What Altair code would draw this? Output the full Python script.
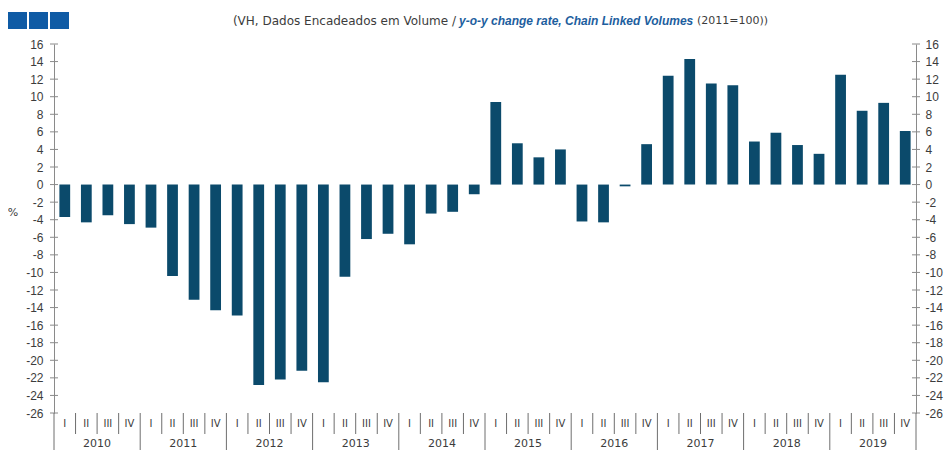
import altair as alt
import pandas as pd

# ---- data ----
years = ["2010", "2011", "2012", "2013", "2014", "2015", "2016", "2017", "2018", "2019"]
quarters = ["I", "II", "III", "IV"]
values = [
    -3.7, -4.3, -3.5, -4.5,      # 2010
    -4.9, -10.4, -13.1, -14.3,   # 2011
    -14.9, -22.8, -22.2, -21.2,  # 2012
    -22.5, -10.5, -6.2, -5.6,    # 2013
    -6.8, -3.3, -3.1, -1.1,      # 2014
    9.4, 4.7, 3.1, 4.0,          # 2015
    -4.2, -4.3, -0.2, 4.6,       # 2016
    12.4, 14.3, 11.5, 11.3,      # 2017
    4.9, 5.9, 4.5, 3.5,          # 2018
    12.5, 8.4, 9.3, 6.1,         # 2019
]
y_ticks = list(range(-26, 17, 2))
title_gray_a = "(VH, Dados Encadeados em Volume / "
title_blue = "y-o-y change rate, Chain Linked Volumes"
title_gray_b = " (2011=100))"

# ---- style ----
W, H = 862, 369
FONT = "DejaVu Sans"
LFONT = "Liberation Sans"
bar_color = "#0b4a6b"
axis_gray = "#8a8a8a"
sep_gray = "#6e6e6e"
text_col = "#3c3c3c"
blue_txt = "#1d5e9e"
sq_color = "#0f5ba5"

df = pd.DataFrame({
    "q": list(range(len(values))),
    "value": values,
    "quarter": quarters * len(years),
})
year_df = pd.DataFrame({"yi": list(range(len(years))), "year": years})
sep_df = pd.DataFrame({"k": list(range(len(values) + 1))})
tick_df = pd.DataFrame({"t": y_ticks})

xscale = alt.Scale(domain=[0, len(values)], nice=False, zero=False)
yscale = alt.Scale(domain=[-26, 16], nice=False, zero=False)
zero_px = H * 16 / 42
lbl_expr = "toString(datum.value)"

bars = alt.Chart(df).transform_calculate(
    x0="datum.q + 0.25", x1="datum.q + 0.75"
).mark_bar(color=bar_color).encode(
    x=alt.X("x0:Q", scale=xscale, axis=alt.Axis(
        values=list(range(len(values) + 1)), labels=False, ticks=True, tickSize=3,
        tickColor=axis_gray, domainColor=axis_gray, grid=False,
        offset=-(H - zero_px), title=None)),
    x2="x1:Q",
    y=alt.Y("value:Q", scale=yscale, axis=alt.Axis(
        orient="left", values=y_ticks, ticks=False, domainColor=axis_gray,
        labelPadding=11, labelFont=LFONT, labelFontSize=12, labelColor=text_col,
        labelExpr=lbl_expr, grid=False, title=None)),
    y2=alt.datum(0),
)

right_ticks = alt.Chart(tick_df).mark_rule(color=axis_gray).encode(
    y=alt.Y("t:Q", scale=yscale, axis=alt.Axis(
        orient="right", values=y_ticks, ticks=False, domainColor=axis_gray,
        labelPadding=9, labelFont=LFONT, labelFontSize=12, labelColor=text_col,
        labelExpr=lbl_expr, grid=False, title=None)),
    x=alt.value(W - 4), x2=alt.value(W + 4),
)
left_ticks = alt.Chart(tick_df).mark_rule(color=axis_gray).encode(
    y=alt.Y("t:Q", scale=yscale, axis=None),
    x=alt.value(-4), x2=alt.value(4),
)

qsep = alt.Chart(sep_df).transform_filter("datum.k % 4 != 0").mark_rule(
    color=sep_gray).encode(
    x=alt.X("k:Q", scale=xscale, axis=None),
    y=alt.value(H), y2=alt.value(H + 21),
)
ysep = alt.Chart(sep_df).transform_filter("datum.k % 4 == 0").mark_rule(
    color=sep_gray).encode(
    x=alt.X("k:Q", scale=xscale, axis=None),
    y=alt.value(H), y2=alt.value(H + 40),
)

qlabels = alt.Chart(df).transform_calculate(xc="datum.q + 0.5").mark_text(
    font=FONT, fontSize=10, color=text_col, baseline="middle").encode(
    x=alt.X("xc:Q", scale=xscale, axis=None),
    y=alt.value(H + 11),
    text="quarter:N",
)
ylabels = alt.Chart(year_df).transform_calculate(xc="datum.yi * 4 + 2").mark_text(
    font=FONT, fontSize=11, color=text_col, baseline="middle").encode(
    x=alt.X("xc:Q", scale=xscale, axis=None),
    y=alt.value(H + 31),
    text="year:N",
)

one = pd.DataFrame({"a": [0]})
pct = alt.Chart(one).mark_text(text="%", font=FONT, fontSize=11, color=text_col,
                               baseline="middle").encode(
    x=alt.value(-41), y=alt.value(169))
t1 = alt.Chart(one).mark_text(text=title_gray_a, font=FONT, fontSize=12,
                              color=text_col, align="right", baseline="middle").encode(
    x=alt.value(402), y=alt.value(-23))
t2 = alt.Chart(one).mark_text(text=title_blue, font="Liberation Sans", fontSize=12,
                              fontStyle="italic", fontWeight="bold", color=blue_txt,
                              align="left", baseline="middle").encode(
    x=alt.value(405), y=alt.value(-23))
t3 = alt.Chart(one).mark_text(text=title_gray_b, font=FONT, fontSize=11,
                              color=text_col, align="left", baseline="middle").encode(
    x=alt.value(643), y=alt.value(-23))

squares = []
for x0 in (-46, -25, -4):
    squares.append(alt.Chart(one).mark_rect(color=sq_color).encode(
        x=alt.value(x0), x2=alt.value(x0 + 19), y=alt.value(-32), y2=alt.value(-15)))

chart = alt.layer(
    bars, right_ticks, left_ticks, qsep, ysep, qlabels, ylabels, pct, t1, t2, t3, *squares
).resolve_scale(y="independent").properties(
    width=W, height=H,
    autosize=alt.AutoSizeParams(type="none"),
    padding={"left": 46, "top": 36, "right": 28, "bottom": 37},
).configure_view(stroke=None).configure_axis(domainWidth=1)

chart.save("out.html", embed_options={"renderer": "svg", "actions": False})
